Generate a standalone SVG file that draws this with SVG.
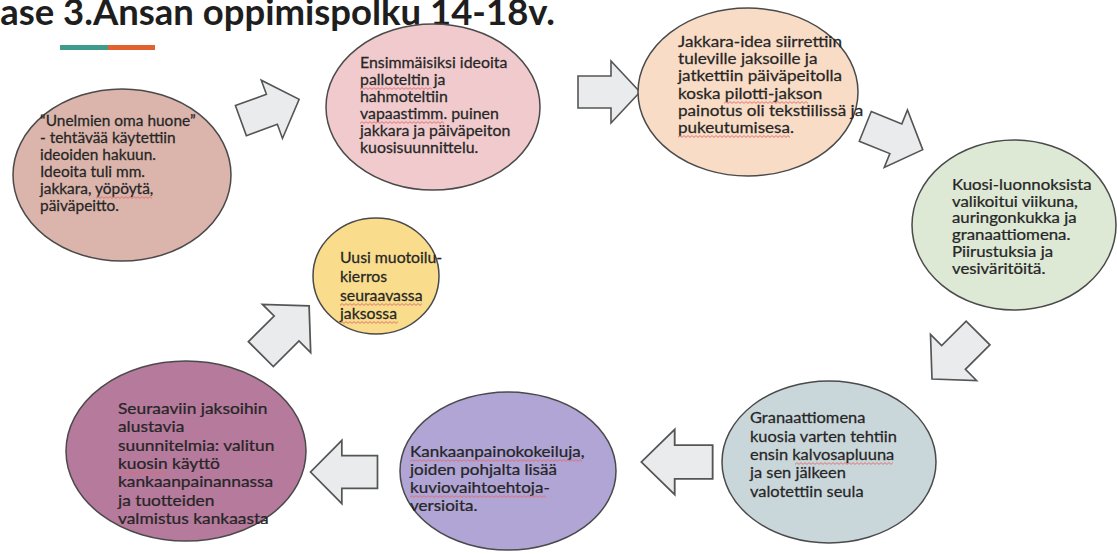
<svg xmlns="http://www.w3.org/2000/svg" width="1117" height="554" viewBox="0 0 1117 554">
<style>
.node{stroke:#4a4a4a;stroke-width:1.5}
.t{font-family:Lato,"Open Sans","Liberation Sans",sans-serif;font-size:15px;fill:#262626;stroke:#262626;stroke-width:0.25}
.t2{font-family:Lato,"Open Sans","Liberation Sans",sans-serif;font-size:15.5px;fill:#262626;stroke:#262626;stroke-width:0.25}
.sq{fill:url(#wv)}
.arr{fill:#e9ebed;stroke:#555;stroke-width:1.6;stroke-linejoin:miter}
.title{font-family:Lato,"Open Sans","Liberation Sans",sans-serif;font-weight:bold;font-size:37px;fill:#1e1e1e}
</style>
<defs>
<polygon id="ar" points="-31,-16 2,-16 2,-31 31,0 2,31 2,16 -31,16"/>
<pattern id="wv" width="4" height="3" patternUnits="userSpaceOnUse">
<path d="M0 2.4 L2 0.6 L4 2.4" fill="none" stroke="#e06a6a" stroke-width="0.9"/>
</pattern>
</defs>
<rect width="1117" height="554" fill="#ffffff"/>
<text class="title" x="-24" y="25" textLength="579" lengthAdjust="spacingAndGlyphs">Case 3.Ansan oppimispolku 14-18v.</text>
<rect x="60" y="45" width="48" height="5" fill="#3f9c8a"/>
<rect x="108" y="45" width="47" height="5" fill="#e2622f"/>

<g id="connectors">
<use href="#ar" class="arr" transform="translate(270,110) rotate(-20)"/>
<use href="#ar" class="arr" transform="translate(609,92)"/>
<use href="#ar" class="arr" transform="translate(894,138) rotate(22)"/>
<use href="#ar" class="arr" transform="translate(955,356) rotate(135) scale(1.05)"/>
<use href="#ar" class="arr" transform="translate(677,462) rotate(180) scale(1.15,1.05)"/>
<use href="#ar" class="arr" transform="translate(344,472) rotate(180) scale(1.08,1.02)"/>
<use href="#ar" class="arr" transform="translate(285,330) rotate(-45) scale(1.1)"/>
</g>

<g id="n1">
<ellipse class="node" cx="122" cy="175" rx="109" ry="86" fill="#dbb4ab"/>
<text class="t" transform="translate(40,0) scale(1.03,1)"><tspan x="0" y="126">“Unelmien oma huone”</tspan><tspan x="0" y="143">- tehtävää käytettiin</tspan><tspan x="0" y="160">ideoiden hakuun.</tspan><tspan x="0" y="177">Ideoita tuli mm.</tspan><tspan x="0" y="194">jakkara, yöpöytä,</tspan><tspan x="0" y="211">päiväpeitto.</tspan></text>
<rect class="sq" transform="translate(96,196)" width="56" height="3"/>
</g>
<g id="n2">
<ellipse class="node" cx="433" cy="107" rx="107" ry="83" fill="#f0cacc"/>
<text class="t" transform="translate(360,0) scale(1.06,1)"><tspan x="0" y="68">Ensimmäisiksi ideoita</tspan><tspan x="0" y="85">palloteltin ja</tspan><tspan x="0" y="102">hahmoteltiin</tspan><tspan x="0" y="119">vapaastimm.  puinen</tspan><tspan x="0" y="136">jakkara ja päiväpeiton</tspan><tspan x="0" y="153">kuosisuunnittelu.</tspan></text>
<rect class="sq" transform="translate(360,87)" width="72" height="3"/>
<rect class="sq" transform="translate(360,121)" width="84" height="3"/>
</g>
<g id="n3">
<ellipse class="node" cx="748" cy="92" rx="110" ry="84" fill="#f9dcc5"/>
<text class="t" transform="translate(678,0) scale(1.14,1)"><tspan x="0" y="47">Jakkara-idea siirrettiin</tspan><tspan x="0" y="64">tuleville jaksoille ja</tspan><tspan x="0" y="81">jatkettiin päiväpeitolla</tspan><tspan x="0" y="99">koska pilotti-jakson</tspan><tspan x="0" y="116">painotus oli tekstiilissä ja</tspan><tspan x="0" y="133">pukeutumisesa.</tspan></text>
<rect class="sq" transform="translate(724,101)" width="84" height="3"/>
<rect class="sq" transform="translate(678,135)" width="112" height="3"/>
</g>
<g id="n4">
<ellipse class="node" cx="1014" cy="225" rx="102" ry="85" fill="#dde8d5"/>
<text class="t" transform="translate(952,0) scale(1.12,1)"><tspan x="0" y="190">Kuosi-luonnoksista</tspan><tspan x="0" y="207">valikoitui  viikuna,</tspan><tspan x="0" y="223">auringonkukka ja</tspan><tspan x="0" y="240">granaattiomena.</tspan><tspan x="0" y="257">Piirustuksia ja</tspan><tspan x="0" y="274">vesivärit&#246;itä.</tspan></text>
</g>
<g id="n5">
<ellipse class="node" cx="829" cy="462" rx="107" ry="81" fill="#cad7da"/>
<text class="t2" transform="translate(750,0) scale(1.06,1)"><tspan x="0" y="423">Granaattiomena</tspan><tspan x="0" y="442">kuosia varten tehtiin</tspan><tspan x="0" y="460">ensin kalvosapluuna</tspan><tspan x="0" y="478">ja sen jälkeen</tspan><tspan x="0" y="497">valotettiin seula</tspan></text>
<rect class="sq" transform="translate(795,462)" width="98" height="3"/>
</g>
<g id="n6">
<ellipse class="node" cx="508" cy="471" rx="108" ry="79" fill="#b1a5d5"/>
<text class="t2" transform="translate(410,0) scale(1.1,1)"><tspan x="0" y="457">Kankaanpainokokeiluja,</tspan><tspan x="0" y="475">joiden pohjalta lisää</tspan><tspan x="0" y="493">kuviovaihtoehtoja-</tspan><tspan x="0" y="511">versioita.</tspan></text>
<rect class="sq" transform="translate(410,459)" width="172" height="3"/>
<rect class="sq" transform="translate(410,495)" width="136" height="3"/>
</g>
<g id="n7">
<ellipse class="node" cx="186" cy="451" rx="120" ry="90" fill="#b67a9d"/>
<text class="t2" transform="translate(118,0) scale(1.12,1)"><tspan x="0" y="414">Seuraaviin jaksoihin</tspan><tspan x="0" y="432.3">alustavia</tspan><tspan x="0" y="450.6">suunnitelmia: valitun</tspan><tspan x="0" y="469">kuosin käyttö</tspan><tspan x="0" y="487.3">kankaanpainannassa</tspan><tspan x="0" y="505.6">ja tuotteiden</tspan><tspan x="0" y="524">valmistus kankaasta</tspan></text>
<rect class="sq" transform="translate(118,471)" width="48" height="3"/>
</g>
<g id="n8">
<ellipse class="node" cx="376" cy="276" rx="63" ry="58" fill="#f9dc8c"/>
<text class="t2" transform="translate(340,0) scale(1.02,1)"><tspan x="0" y="263">Uusi muotoilu-</tspan><tspan x="0" y="282">kierros</tspan><tspan x="0" y="301">seuraavassa</tspan><tspan x="0" y="319">jaksossa</tspan></text>
<rect class="sq" transform="translate(340,303)" width="82" height="3"/>
<rect class="sq" transform="translate(340,321)" width="58" height="3"/>
</g>
</svg>
